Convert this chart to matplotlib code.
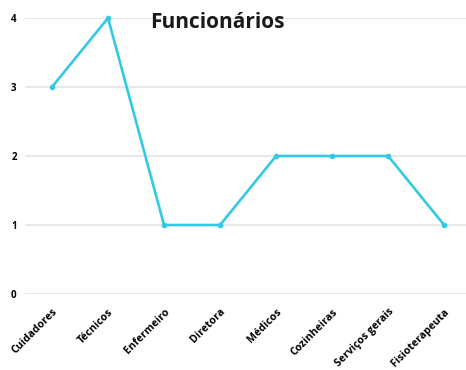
import matplotlib.pyplot as plt
import matplotlib.transforms as mtransforms

categorias = ['Cuidadores', 'Técnicos', 'Enfermeiro', 'Diretora', 'Médicos',
              'Cozinheiras', 'Serviços gerais', 'Fisioterapeuta']
valores = [3, 4, 1, 1, 2, 2, 2, 1]
yticks = [0, 1, 2, 3, 4]

plt.rcParams['font.family'] = ['Open Sans', 'DejaVu Sans']

fig = plt.figure(figsize=(4.66, 3.70), dpi=100)
ax = fig.add_axes([25/466, 76/370, 441/466, 276/370])

x = list(range(len(categorias)))
ax.plot(x, valores, color='#33c9e6', lw=1.9, marker='o', ms=3, clip_on=False, zorder=3)

ax.set_xlim(-0.482, 7.39)
ax.set_ylim(0, 4)
ax.set_yticks(yticks)
ax.set_yticklabels([str(v) for v in yticks], fontsize=7, fontweight='bold')
ax.set_xticks(x)
ax.set_xticklabels(categorias, fontsize=7.6, fontweight='bold', rotation=45,
                   ha='right', rotation_mode='anchor')
offset = mtransforms.ScaledTranslation(7/100, -2/100, fig.dpi_scale_trans)
for lab in ax.get_xticklabels():
    lab.set_transform(lab.get_transform() + offset)

ax.tick_params(length=0, pad=9)
ax.tick_params(axis='y', pad=6)
ax.grid(axis='y', color='#e8e8e8', lw=1.5)
ax.set_axisbelow(True)
for s in ax.spines.values():
    s.set_visible(False)

fig.text(217/466, 1 - 22/370, 'Funcionários', fontsize=15, fontweight='bold',
         ha='center', va='center', color='#1a1a1a')

fig.savefig('out.png', dpi=100)
